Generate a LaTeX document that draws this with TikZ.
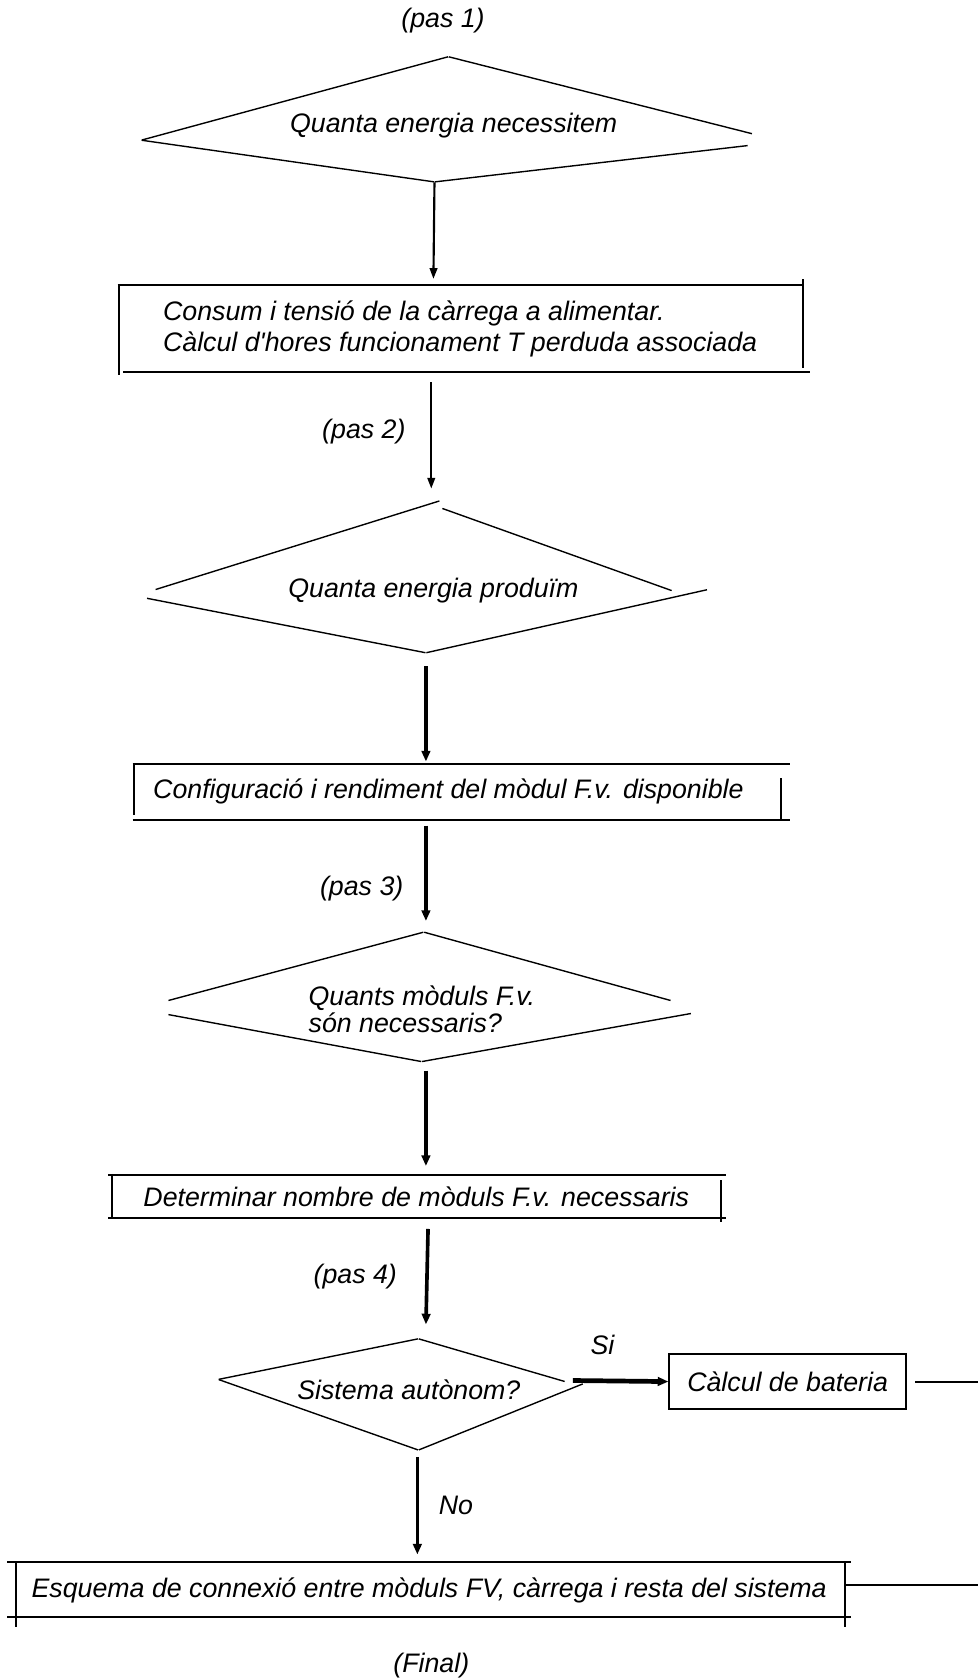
\documentclass[tikz,border=0pt]{standalone}
\usepackage{fontspec}
\setmainfont{Liberation Sans}
\usetikzlibrary{arrows.meta}

\begin{document}
\begin{tikzpicture}
  [x=0.5pt, y=-0.5pt,
   enode/.style={minimum size=0, inner sep=0},
   txt/.style={inner sep=0, font=\fontsize{12.5}{15}\selectfont\itshape},
   outline/.style={line width=0.65pt, draw=black},
   boxline/.style={line width=0.9pt, draw=black},
   flow/.style={line width=1pt, -{Triangle[length=5pt, width=3.5pt]}},
   heavyflow/.style={line width=1.7pt, -{Triangle[length=5pt, width=4pt]}}]

  \useasboundingbox (0,0) rectangle (914,1568);

  % step 1
  \node[txt] (pas1) at (414,19) {(pas 1)};

  % decision: energy needed
  \node[enode] (d1t) at (419,53) {};
  \node[enode] (d1l) at (132,131) {};
  \node[enode] (d1r) at (703,125) {};
  \node[enode] (d1rb) at (699,136) {};
  \node[enode] (d1b) at (406,170) {};
  \draw[outline] (d1l) -- (d1t) -- (d1r);
  \draw[outline] (d1l) -- (d1b) -- (d1rb);
  \node[txt] (need) at (424,117) {Quanta energia necessitem};

  % load box
  \node[enode] (b1t) at (405,261) {};
  \draw[flow] (d1b) -- (b1t);
  \draw[boxline] (110,266) -- (750,266);
  \draw[boxline] (750,261) -- (750,344);
  \draw[boxline] (111,266) -- (111,350);
  \draw[boxline] (115,348) -- (757,348);
  \node[txt, anchor=west, align=left, font=\fontsize{12.5}{14.5}\selectfont\itshape]
    (load) at (152,307) {Consum i tensió de la càrrega a alimentar.\\Càlcul d\textquotesingle{}hores funcionament T perduda associada};

  % step 2
  \node[enode] (a2s) at (403,357) {};
  \node[enode] (a2e) at (403,457) {};
  \draw[flow] (a2s) -- (a2e);
  \node[txt] (pas2) at (340,403) {(pas 2)};

  % decision: energy produced
  \node[enode] (d2t) at (411,468) {};
  \node[enode] (d2tr) at (413,475) {};
  \node[enode] (d2l) at (145,551) {};
  \node[enode] (d2lb) at (137,559) {};
  \node[enode] (d2r) at (628,552) {};
  \node[enode] (d2rb) at (661,551) {};
  \node[enode] (d2b) at (398,610) {};
  \draw[outline] (d2l) -- (d2t);
  \draw[outline] (d2tr) -- (d2r);
  \draw[outline] (d2lb) -- (d2b) -- (d2rb);
  \node[txt] (prod) at (405,552) {Quanta energia produïm};

  % module box
  \node[enode] (a3s) at (398,622) {};
  \node[enode] (b2t) at (398,712) {};
  \draw[heavyflow] (a3s) -- (b2t);
  \draw[boxline] (124,714) -- (738,714);
  \draw[boxline] (125,714) -- (125,762);
  \draw[boxline] (730,727) -- (730,766);
  \draw[boxline] (124,766) -- (738,766);
  \node[txt] (module) at (419,740) {Configuració i rendiment del mòdul F.v. disponible};

  % step 3
  \node[enode] (a4s) at (398,771) {};
  \node[enode] (a4e) at (398,861) {};
  \draw[heavyflow] (a4s) -- (a4e);
  \node[txt] (pas3) at (338,830) {(pas 3)};

  % decision: how many modules
  \node[enode] (d3t) at (396,871) {};
  \node[enode] (d3l) at (157,935) {};
  \node[enode] (d3lb) at (157,948) {};
  \node[enode] (d3r) at (627,935) {};
  \node[enode] (d3rb) at (646,947) {};
  \node[enode] (d3b) at (394,992) {};
  \draw[outline] (d3l) -- (d3t) -- (d3r);
  \draw[outline] (d3lb) -- (d3b) -- (d3rb);
  \node[txt, anchor=west, align=left, font=\fontsize{12.5}{12.5}\selectfont\itshape]
    (howmany) at (288,943) {Quants mòduls F.v.\\són necessaris?};

  % number of modules box
  \node[enode] (a5s) at (398,1000) {};
  \node[enode] (b3t) at (398,1090) {};
  \draw[heavyflow] (a5s) -- (b3t);
  \draw[boxline] (101,1098) -- (678,1098);
  \draw[boxline] (105,1097) -- (105,1138);
  \draw[boxline] (674,1103) -- (674,1142);
  \draw[boxline] (101,1138) -- (678,1138);
  \node[txt] (number) at (389,1118) {Determinar nombre de mòduls F.v. necessaris};

  % step 4
  \node[enode] (a6s) at (400,1148) {};
  \node[enode] (a6e) at (398,1238) {};
  \draw[heavyflow] (a6s) -- (a6e);
  \node[txt] (pas4) at (332,1193) {(pas 4)};

  % decision: stand-alone system
  \node[enode] (d4t) at (391,1251) {};
  \node[enode] (d4l) at (204,1289) {};
  \node[enode] (d4r) at (528,1291) {};
  \node[enode] (d4rb) at (545,1293) {};
  \node[enode] (d4b) at (391,1355) {};
  \draw[outline] (d4l) -- (d4t) -- (d4r);
  \draw[outline] (d4l) -- (d4b) -- (d4rb);
  \node[txt] (alone) at (382,1299) {Sistema autònom?};

  % yes branch
  \node[draw, line width=0.9pt, minimum width=110.5pt, minimum height=26pt, inner sep=0,
        font=\fontsize{12.5}{15}\selectfont\itshape] (battery) at (736,1291) {Càlcul de bateria};
  \node[enode] (sis) at (535,1290) {};
  \draw[heavyflow, line width=2.2pt] (sis) -- (battery.west);
  \node[txt] (si) at (563,1257) {Si};
  \node[enode] (bout) at (914,1291) {};
  \draw[boxline] ([xshift=4pt]battery.east) -- (bout);

  % no branch
  \node[enode] (nos) at (390,1361) {};
  \node[enode] (b4t) at (390,1453) {};
  \draw[heavyflow] (nos) -- (b4t);
  \node[txt] (no) at (426,1407) {No};

  % wiring box
  \draw[boxline] (7,1460) -- (795,1460);
  \draw[boxline] (15,1460) -- (15,1520);
  \draw[boxline] (790,1460) -- (790,1520);
  \draw[boxline] (7,1511) -- (795,1511);
  \node[txt] (wiring) at (401,1486) {Esquema de connexió entre mòduls FV, càrrega i resta del sistema};
  \node[enode] (win) at (790,1481) {};
  \node[enode] (wout) at (914,1481) {};
  \draw[boxline] (win) -- (wout);

  \node[txt] (final) at (403,1556) {(Final)};

\end{tikzpicture}
\end{document}
